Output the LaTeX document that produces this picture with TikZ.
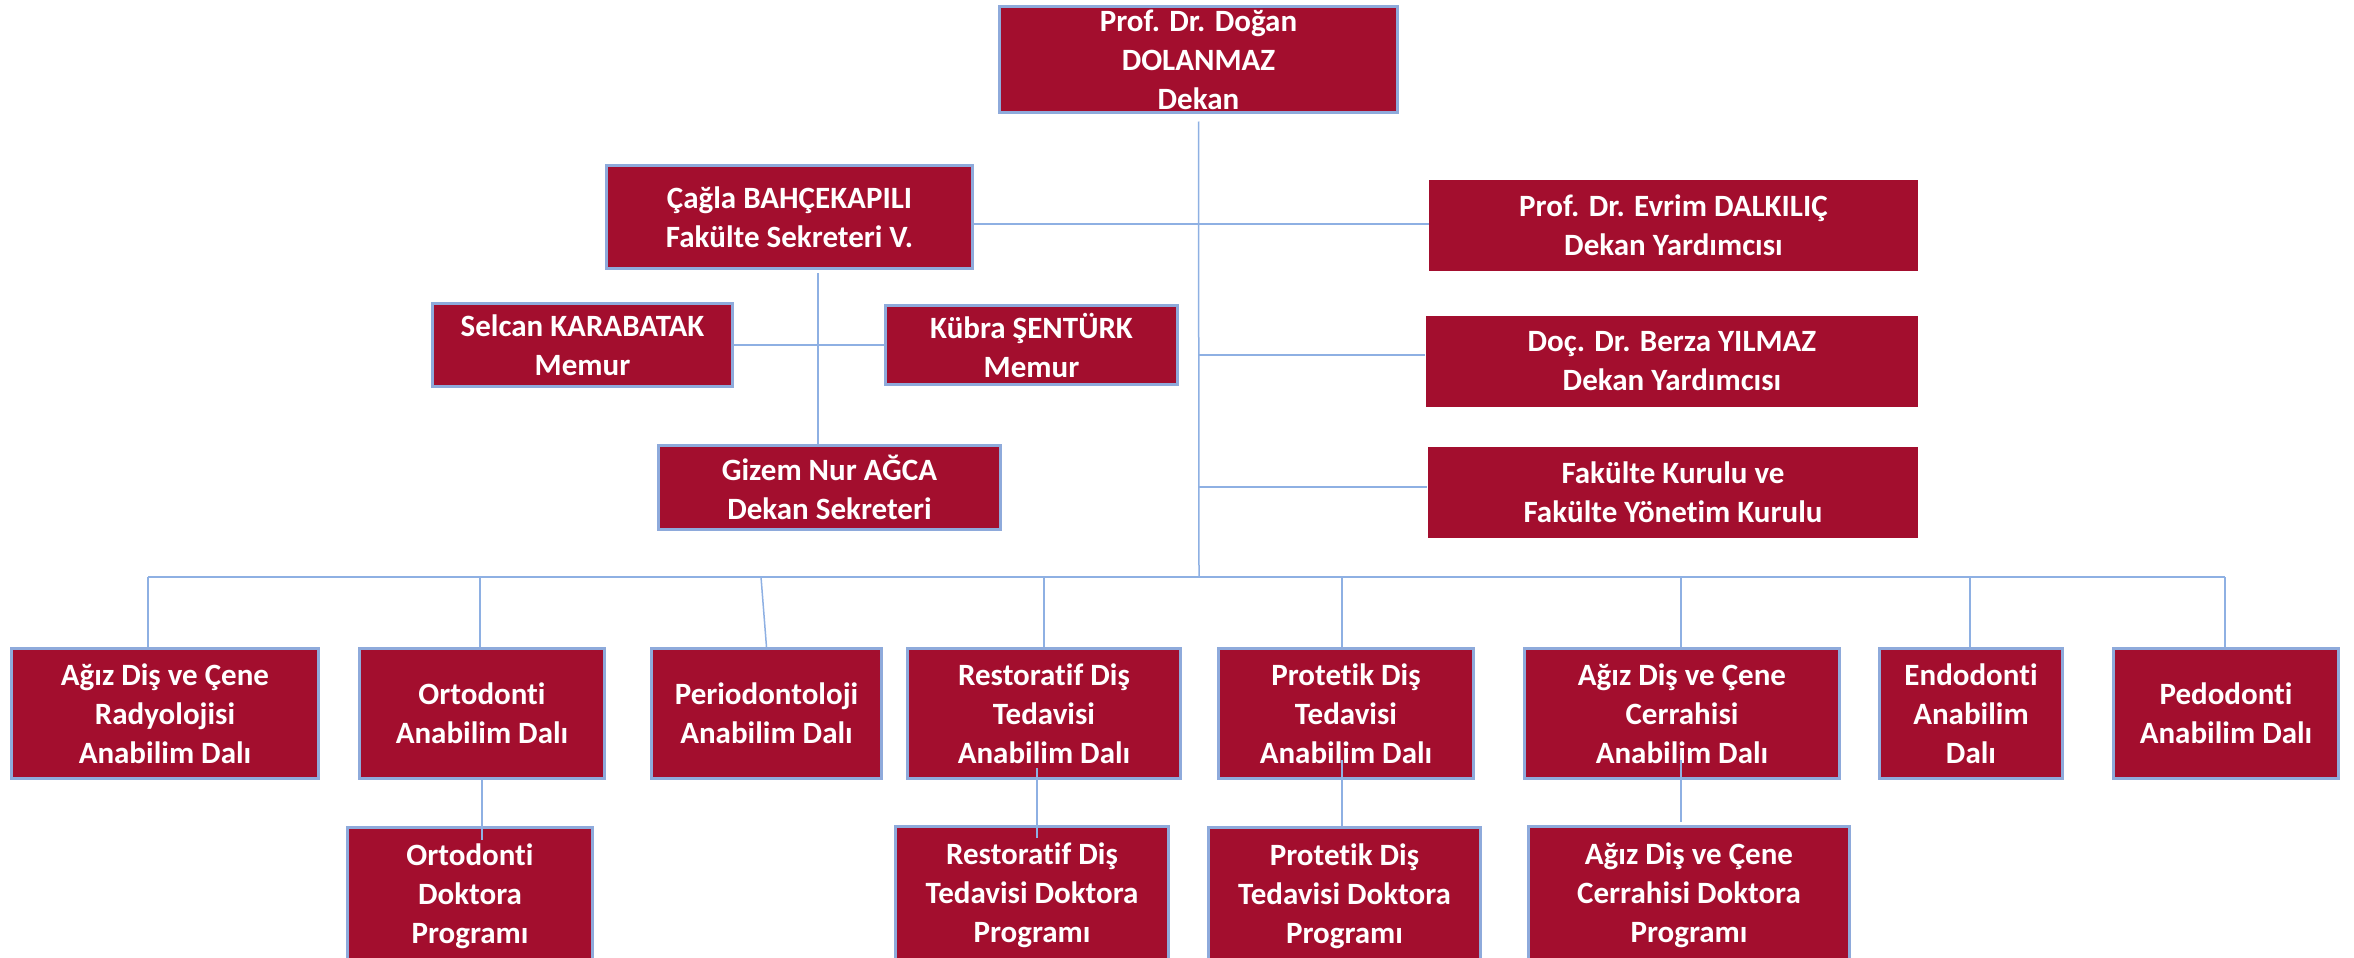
\documentclass[tikz,border=0pt]{standalone}
\usepackage{fontspec}
\setmainfont{Carlito}[Ligatures=NoCommon]
\definecolor{bordo}{RGB}{163,14,46}
\definecolor{frameblue}{RGB}{142,170,219}
\definecolor{linkblue}{RGB}{142,176,227}
\begin{document}
\begin{tikzpicture}
        [x=1pt, y=-1pt,
        unit/.style={rectangle, draw=frameblue, line width=3pt, fill=bordo, text=white,
                font=\fontsize{31}{39}\selectfont\bfseries, align=center, inner sep=0pt},
        plain/.style={unit, draw=none},
        link/.style={linkblue, line width=1.5pt}]

        \fill[white] (0,0) rectangle (2354,958);
        \useasboundingbox (0,0) rectangle (2354,958);
        \clip (0,0) rectangle (2354,958);

        % dean and office
        \node[unit, minimum width=398pt, minimum height=106pt] (dekan) at (1198.5,59.5) {Prof. Dr. Doğan\\DOLANMAZ\\Dekan};
        \node[unit, minimum width=366pt, minimum height=103pt] (cagla) at (789.5,217) {Çağla BAHÇEKAPILI\\Fakülte Sekreteri V.};
        \node[unit, minimum width=300pt, minimum height=83pt] (selcan) at (582.5,345) {Selcan KARABATAK\\Memur};
        \node[unit, minimum width=292pt, minimum height=79pt] (kubra) at (1031.5,345) {Kübra ŞENTÜRK\\Memur};
        \node[unit, minimum width=342pt, minimum height=84pt] (gizem) at (829.5,487.5) {Gizem Nur AĞCA\\Dekan Sekreteri};

        % deputies and boards
        \node[plain, minimum width=489pt, minimum height=91pt] (evrim) at (1673.5,225.5) {Prof. Dr. Evrim DALKILIÇ\\Dekan Yardımcısı};
        \node[plain, minimum width=492pt, minimum height=91pt] (berza) at (1672,361.5) {Doç. Dr. Berza YILMAZ\\Dekan Yardımcısı};
        \node[plain, minimum width=490pt, minimum height=91pt] (kurul) at (1673,492.5) {Fakülte Kurulu ve\\Fakülte Yönetim Kurulu};

        % departments
        \node[unit, minimum width=307pt, minimum height=130pt] (radyo) at (165,713.5) {Ağız Diş ve Çene\\Radyolojisi\\Anabilim Dalı};
        \node[unit, minimum width=245pt, minimum height=130pt] (orto) at (482,713.5) {Ortodonti\\Anabilim Dalı};
        \node[unit, minimum width=230pt, minimum height=130pt] (perio) at (766.5,713.5) {Periodontoloji\\Anabilim Dalı};
        \node[unit, minimum width=273pt, minimum height=130pt] (resto) at (1044,713.5) {Restoratif Diş\\Tedavisi\\Anabilim Dalı};
        \node[unit, minimum width=255pt, minimum height=130pt] (prot) at (1346,713.5) {Protetik Diş\\Tedavisi\\Anabilim Dalı};
        \node[unit, minimum width=315pt, minimum height=130pt] (cerr) at (1682,713.5) {Ağız Diş ve Çene\\Cerrahisi\\Anabilim Dalı};
        \node[unit, minimum width=183pt, minimum height=130pt] (endo) at (1971,713.5) {Endodonti\\Anabilim\\Dalı};
        \node[unit, minimum width=225pt, minimum height=130pt] (pedo) at (2226,713.5) {Pedodonti\\Anabilim Dalı};

        % doctoral programmes
        \node[unit, minimum width=245pt, minimum height=137pt] (ortodr) at (470,896) {Ortodonti\\Doktora\\Programı};
        \node[unit, minimum width=273pt, minimum height=137pt] (restodr) at (1032,895) {Restoratif Diş\\Tedavisi Doktora\\Programı};
        \node[unit, minimum width=272pt, minimum height=137pt] (protdr) at (1344.5,896) {Protetik Diş\\Tedavisi Doktora\\Programı};
        \node[unit, minimum width=321pt, minimum height=137pt] (cerrdr) at (1689,895) {Ağız Diş ve Çene\\Cerrahisi Doktora\\Programı};

        % link points
        \coordinate (bus) at (1199,577);
        \coordinate (evrimlink) at (1429,224);
        \coordinate (berzalink) at (1199,355);
        \coordinate (kurullink) at (1199,487);
        \coordinate (caglalink) at (818,273);
        \coordinate (busleft) at (148,577);
        \coordinate (busright) at (2225,577);

        % upper links
        \draw[link] ([yshift=-7.5pt]dekan.south) -- (bus);
        \draw[link] (evrimlink -| cagla.east) -- (evrimlink);
        \draw[link] (berzalink) -- (berzalink -| berza.west);
        \draw[link] (kurullink) -- (kurullink -| kurul.west);
        \draw[link] (selcan.east) -- (kubra.west);
        \draw[link] (caglalink) -- (caglalink |- gizem.north);

        % department links
        \draw[link] (busleft) -- (busright);
        \draw[link] (busleft) -- (busleft |- radyo.north);
        \draw[link] (480,577) -- (480,577 |- orto.north);
        \draw[link] (761,577) -- (perio.north);
        \draw[link] (1044,577) -- (1044,577 |- resto.north);
        \draw[link] (1342,577) -- (1342,577 |- prot.north);
        \draw[link] (1681,577) -- (1681,577 |- cerr.north);
        \draw[link] (1970,577) -- (1970,577 |- endo.north);
        \draw[link] (busright) -- (busright |- pedo.north);

        % programme links
        \draw[link] (orto.south) -- ++(0,59.5);
        \draw[link] ([xshift=-7pt,yshift=12pt]resto.south) -- ([xshift=5pt,yshift=-13pt]restodr.north);
        \draw[link] ([xshift=-4pt,yshift=20pt]prot.south) -- ([xshift=-2.5pt]protdr.north);
        \draw[link] ([xshift=-1pt,yshift=20pt]cerr.south) -- ([xshift=-8pt,yshift=3pt]cerrdr.north);

        \end{tikzpicture}
\end{document}
